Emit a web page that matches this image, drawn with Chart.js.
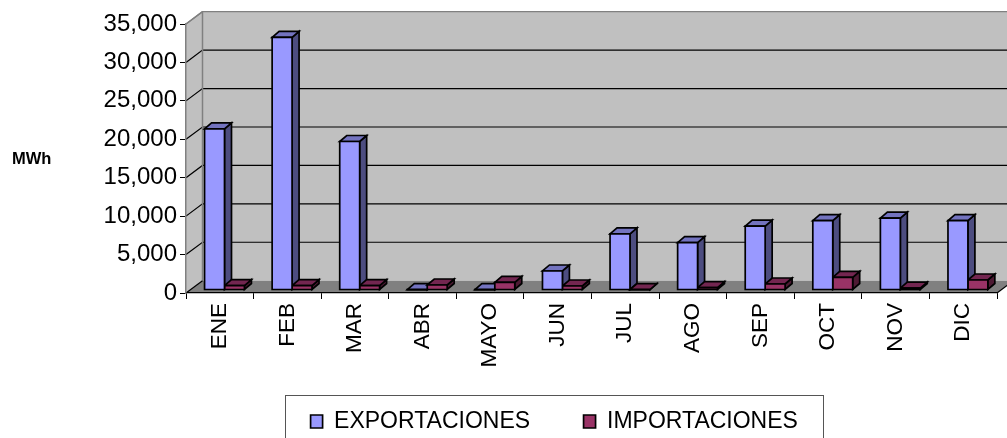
<!DOCTYPE html>
<html><head><meta charset="utf-8">
<script src="https://cdn.jsdelivr.net/npm/chart.js@4"></script>
<style>html,body{margin:0;padding:0;background:#fff;overflow:hidden}canvas{display:block}</style>
</head><body><div style="width:1007px;height:438px;position:relative"><canvas id="c"></canvas></div>
<script>
const categories=["ENE","FEB","MAR","ABR","MAYO","JUN","JUL","AGO","SEP","OCT","NOV","DIC"];
const exportaciones=[20970,32870,19320,40,40,2475,7290,6160,8300,9030,9340,9030];
const importaciones=[560,560,560,650,1000,520,50,300,780,1650,250,1300];
const yTicks=[0,5000,10000,15000,20000,25000,30000,35000];
const seriesNames=["EXPORTACIONES","IMPORTACIONES"];
const unitLabel="MWh";
const FONT='"Liberation Sans",Arial,sans-serif';
const DX=16.5,DY=12.3,BDX=7,BDY=6,SX=4.7,SY=-3,LW=1.7;
const sideCol=["#4d4d80","#4d1a33"],topCol=["#7373bf","#732650"];
function poly(ctx,pts,fill,stroke,lw){ctx.beginPath();pts.forEach((p,i)=>i?ctx.lineTo(p[0],p[1]):ctx.moveTo(p[0],p[1]));ctx.closePath();if(fill){ctx.fillStyle=fill;ctx.fill();}if(stroke){ctx.strokeStyle=stroke;ctx.lineWidth=lw;ctx.lineJoin='miter';ctx.stroke();}}
function depth(ctx,meta,i){meta.data.forEach(b=>{const l=b.x-b.width/2,r=b.x+b.width/2,t=b.y,bo=b.base;
   poly(ctx,[[r,t],[r+BDX,t-BDY],[r+BDX,bo-BDY],[r,bo]],sideCol[i],'#000',LW);
   poly(ctx,[[l,t],[l+BDX,t-BDY],[r+BDX,t-BDY],[r,t]],topCol[i],'#000',LW);});}
const walls={id:'walls',
 beforeDraw(chart){const {ctx,chartArea:a,scales:{y}}=chart;ctx.save();
  const L=a.left,R=a.right,T=a.top,B=a.bottom;
  poly(ctx,[[L,T],[L+DX,T-DY],[L+DX,B-DY],[L,B]],'#c0c0c0');
  poly(ctx,[[L+DX,T-DY],[R+DX,T-DY],[R+DX,B-DY],[L+DX,B-DY]],'#c0c0c0');
  poly(ctx,[[L,B],[R,B],[R+DX,B-DY],[L+DX,B-DY]],'#808080');
  ctx.lineWidth=1.2;
  yTicks.forEach(v=>{if(v===0)return;const p=y.getPixelForValue(v);ctx.strokeStyle=v===yTicks[yTicks.length-1]?'#808080':'#000';
   ctx.beginPath();ctx.moveTo(L,p);ctx.lineTo(L+DX,p-DY);ctx.lineTo(R+DX,p-DY);ctx.stroke();});
  ctx.strokeStyle='#808080';ctx.lineWidth=1.5;
  ctx.beginPath();ctx.moveTo(L+DX,T-DY);ctx.lineTo(L+DX,B-DY);ctx.stroke();
  ctx.beginPath();ctx.moveTo(L,T);ctx.lineTo(L+DX,T-DY);ctx.stroke();
  ctx.strokeStyle='#000';ctx.lineWidth=1.2;
  ctx.beginPath();ctx.moveTo(L,B);ctx.lineTo(L+DX,B-DY);ctx.stroke();
  ctx.beginPath();ctx.moveTo(R,B);ctx.lineTo(R+DX,B-DY);ctx.stroke();
  ctx.fillStyle='#000';ctx.font='bold 16.5px '+FONT;ctx.textBaseline='middle';ctx.textAlign='left';ctx.fillText(unitLabel,12,159);
  ctx.restore();},
 beforeDatasetDraw(chart,args){const ctx=chart.ctx;ctx.save();ctx.translate(SX,SY);
  if(args.index===1){depth(ctx,chart.getDatasetMeta(0),0);depth(ctx,args.meta,1);}},
 afterDatasetDraw(chart,args){const ctx=chart.ctx;
  args.meta.data.forEach(b=>{const l=b.x-b.width/2,r=b.x+b.width/2;
   poly(ctx,[[l,b.y],[r,b.y],[r,b.base],[l,b.base]],null,'#000',LW);});
  ctx.restore();},
 afterLayout(chart){const lg=chart.legend;lg.left=248.5;lg.right=860;lg.top=424-53.5-14;lg.bottom=438;},
 afterDraw(chart){const ctx=chart.ctx;ctx.save();ctx.strokeStyle='#555';ctx.lineWidth=1;ctx.strokeRect(285.5,395.5,538,50);ctx.restore();}
};
new Chart(document.getElementById('c'),{type:'bar',plugins:[walls],
 data:{labels:categories,datasets:[
  {label:seriesNames[0],data:exportaciones,backgroundColor:'#9999ff',borderWidth:0},
  {label:seriesNames[1],data:importaciones,backgroundColor:'#993366',borderWidth:0}]},
 options:{responsive:true,maintainAspectRatio:false,animation:false,
  layout:{padding:{left:0,right:10,top:24,bottom:0}},
  datasets:{bar:{categoryPercentage:0.59,barPercentage:1}},
  plugins:{tooltip:{enabled:false},
   legend:{position:'bottom',maxHeight:40,labels:{font:{family:FONT,size:23},color:'#000',boxWidth:12,boxHeight:13,padding:53.5,
    generateLabels(c){return Chart.defaults.plugins.legend.labels.generateLabels(c).map(i=>({...i,strokeStyle:'#000',lineWidth:1.7}));}}}},
  scales:{
   x:{offset:true,afterFit(s){s.height=105;},
      border:{color:'#000',width:1.2},
      grid:{display:true,offset:true,drawOnChartArea:false,drawTicks:true,tickLength:6,color:'#000'},
      ticks:{font:{family:FONT,size:22.5},color:'#000',maxRotation:90,minRotation:90,padding:4}},
   y:{min:0,max:35000,afterFit(s){s.width=186;},
      afterBuildTicks(s){s.ticks=yTicks.map(v=>({value:v}));},
      border:{color:'#808080',width:1.5},
      grid:{drawOnChartArea:false,drawTicks:true,tickLength:6,color:'#000'},
      ticks:{font:{family:FONT,size:24},color:'#000',padding:3,callback:v=>v.toLocaleString('en-US')}}
  }}});
</script></body></html>
